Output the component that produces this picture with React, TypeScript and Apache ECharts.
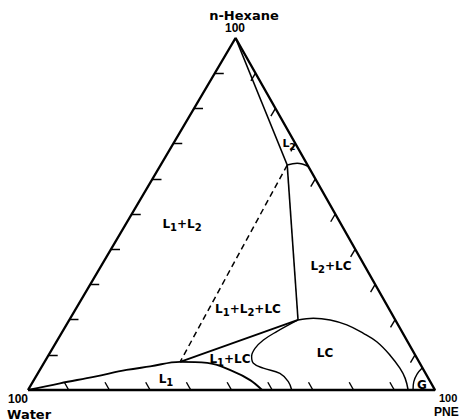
import React, { useEffect, useRef } from "react";
import * as echarts from "echarts";

// Compositions are [water, n-hexane, PNE] in weight percent.
const TICK_VALUES = [10, 20, 30, 40, 50, 60, 70, 80, 90];

const L2_POINT = [5.0, 63.9, 31.1];
const L1_POINT = [58.7, 8.0, 33.3];
const LC_POINT = [23.9, 19.9, 56.2];

const L2_SIDE = [[0, 100, 0], L2_POINT];
const L2_LOWER = [L2_POINT, [2.3, 64.4, 33.3], [0, 63.5, 36.5]];

const L1_BOUNDARY = [
  [100, 0, 0], [91.2, 1.9, 6.9], [81.7, 3.8, 14.5], [73.0, 5.7, 21.3],
  [66.7, 6.7, 26.6], L1_POINT, [52.2, 7.7, 40.1], [47.0, 5.3, 47.7],
  [44.0, 2.8, 53.1], [42.5, 0, 57.5],
];

const LC_LEFT = [
  LC_POINT, [30.8, 16.6, 52.7], [35.2, 14.2, 50.6], [38.4, 11.8, 49.7],
  [40.4, 9.5, 50.1], [40.9, 7.6, 51.5], [39.2, 6.2, 54.7], [35.8, 4.7, 59.5],
  [34.9, 2.4, 62.8], [35.2, 0, 64.8],
];

const LC_DOME = [
  LC_POINT, [19.9, 20.4, 59.7], [16.0, 19.9, 64.1], [12.6, 18.5, 68.9],
  [9.7, 16.1, 74.2], [7.6, 13.7, 78.7], [6.2, 9.9, 83.9], [5.6, 6.2, 88.3],
  [5.7, 3.3, 90.9], [6.6, 0, 93.4],
];

const G_BOUNDARY = [[5.4, 0, 94.6], [4.1, 2.3, 93.7], [2.2, 4.5, 93.3], [0, 6.3, 93.7]];

// horizontal position of the n-Hexane apex along the base (0 = Water, 1 = PNE)
const APEX = 0.51;
const TICK_LEN = 2.2;

function toXY(c: number[]): number[] {
  const s = c[0] + c[1] + c[2];
  const h = c[1] / s;
  const p = c[2] / s;
  return [p + APEX * h, h];
}

function curve(data: number[][], opts: any = {}) {
  return {
    type: "line",
    data: data.map(toXY),
    symbol: "none",
    clip: false,
    silent: true,
    smooth: opts.smooth ?? 0,
    lineStyle: { color: "#000", width: opts.width ?? 1.5, type: opts.type ?? "solid" },
  };
}

function buildTicks() {
  const segs: any[] = [];
  for (const v of TICK_VALUES) {
    // Water–n-Hexane side: lines of constant n-hexane
    segs.push({ coords: [toXY([100 - v, v, 0]), toXY([100 - v - TICK_LEN, v, TICK_LEN])] });
    // Water–PNE side: lines of constant water
    segs.push({ coords: [toXY([v, 0, 100 - v]), toXY([v, TICK_LEN, 100 - v - TICK_LEN])] });
    // n-Hexane–PNE side: lines of constant PNE
    segs.push({ coords: [toXY([0, 100 - v, v]), toXY([TICK_LEN, 100 - v - TICK_LEN, v])] });
  }
  return segs;
}

const FONT = '"DejaVu Sans", sans-serif';
const DIGIT_FONT = '"Liberation Sans", Arial, sans-serif';

function label(text: string, x: number, y: number, size = 13, align = "center", family = FONT) {
  return {
    type: "text",
    x,
    y,
    silent: true,
    style: {
      text,
      fill: "#000",
      fontFamily: family,
      fontWeight: "bold",
      fontSize: size,
      align,
      textAlign: align,
      verticalAlign: "middle",
      textVerticalAlign: "middle",
    },
  };
}

// phase label with subscripted digits, e.g. "L1+L2" -> L₁+L₂
function phase(name: string, x: number, y: number, size = 12) {
  const text = name.replace(/([A-Z+]+)|(\d)/g, (_m, word, digit) =>
    word ? `{b|${word}}` : `{s|${digit}}`
  );
  return {
    type: "text",
    x,
    y,
    silent: true,
    style: {
      text,
      fill: "#000",
      align: "center",
      textAlign: "center",
      verticalAlign: "middle",
      textVerticalAlign: "middle",
      rich: {
        b: {
          fill: "#000",
          fontFamily: FONT,
          fontWeight: "bold",
          fontSize: size,
          lineHeight: 17,
          verticalAlign: "middle",
        },
        s: {
          fill: "#000",
          fontFamily: FONT,
          fontWeight: "bold",
          fontSize: size - 2,
          lineHeight: 10,
          padding: [7, 0, 0, 0],
          verticalAlign: "bottom",
        },
      },
    },
  };
}

export default function App() {
  const ref = useRef<HTMLDivElement>(null);

  useEffect(() => {
    if (!ref.current) return;
    const chart = echarts.init(ref.current, undefined, { renderer: "svg" });
    chart.setOption({
      animation: false,
      backgroundColor: "#fff",
      grid: { left: 28, top: 38, width: 407, height: 352 },
      xAxis: { type: "value", min: 0, max: 1, show: false },
      yAxis: { type: "value", min: 0, max: 1, show: false },
      series: [
        curve([[100, 0, 0], [0, 0, 100], [0, 100, 0], [100, 0, 0]], { width: 2.4 }),
        {
          type: "lines",
          coordinateSystem: "cartesian2d",
          silent: true,
          data: buildTicks(),
          lineStyle: { color: "#000", width: 1.4, opacity: 1 },
        },
        curve(L2_SIDE, { width: 1.6 }),
        curve(L2_LOWER, { width: 1.5, smooth: 0.4 }),
        curve([L2_POINT, LC_POINT], { width: 1.6 }),
        curve([L2_POINT, L1_POINT], { width: 1.5, type: [6, 4] }),
        curve([L1_POINT, LC_POINT], { width: 1.9 }),
        curve(L1_BOUNDARY, { width: 1.9, smooth: 0.4 }),
        curve(LC_LEFT, { width: 1.4, smooth: 0.4 }),
        curve(LC_DOME, { width: 1.5, smooth: 0.4 }),
        curve(G_BOUNDARY, { width: 1.4, smooth: 0.4 }),
      ],
      graphic: [
        label("n-Hexane", 244, 15),
        label("100", 235, 28, 12, "center", DIGIT_FONT),
        label("100", 8, 399, 12, "left", DIGIT_FONT),
        label("Water", 7, 414, 13, "left"),
        label("100", 439, 398, 11, "left", DIGIT_FONT),
        label("PNE", 434, 412, 12, "left", DIGIT_FONT),
        phase("L1+L2", 182, 224),
        phase("L2", 289, 143, 11),
        phase("L2+LC", 331, 266),
        phase("L1+L2+LC", 248, 309),
        phase("L1+LC", 230, 359),
        phase("LC", 325, 353),
        phase("L1", 166, 379),
        label("G", 422, 385, 12),
      ],
    });
    return () => chart.dispose();
  }, []);

  return (
    <div
      ref={ref}
      style={{ position: "absolute", left: 0, top: 0, width: 461, height: 420, background: "#fff" }}
    />
  );
}
